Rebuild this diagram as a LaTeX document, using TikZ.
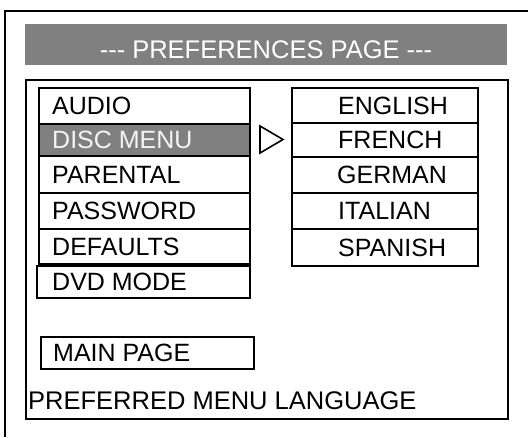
\documentclass[tikz,border=0pt]{standalone}
\usepackage{fontspec}
\setmainfont{Liberation Sans}
\definecolor{bargray}{HTML}{808080}
\definecolor{seltext}{HTML}{F4F4F4}
\begin{document}
\begin{tikzpicture}[x=1pt,y=-1pt,
  frame/.style={line width=2pt, draw=black},
  menubox/.style={draw=black, line width=2pt, anchor=north west, inner sep=0pt, minimum width=211pt},
  langbox/.style={draw=black, line width=2pt, anchor=north west, inner sep=0pt, minimum width=186pt},
  lbl/.style={inner sep=0pt, anchor=west, text height=17.9pt, text depth=0pt, font=\fontsize{25pt}{28pt}\selectfont},
  biglbl/.style={inner sep=0pt, text height=18.3pt, text depth=0pt, font=\fontsize{25.5pt}{28pt}\selectfont}
]
\useasboundingbox (0,0) rectangle (528,437);
\fill[white] (0,0) rectangle (528,437);
% outer frame
\draw[frame] (528,11) -- (5,11) -- (5,437);
% title bar
\node[fill=bargray, inner sep=0pt, anchor=north west, minimum width=482pt, minimum height=41pt] (bar) at (25,24) {};
\node[biglbl, text=white] (title) at (266,49.5) {-{}-{}- PREFERENCES PAGE -{}-{}-};
% inner box
\node[frame, anchor=north west, inner sep=0pt, minimum width=482pt, minimum height=339pt] (inner) at (25,79) {};
% left menu
\node[menubox, minimum height=36pt] (audio) at (38,87) {};
\node[menubox, minimum height=32pt, fill=bargray] (disc) at (38,123) {};
\node[menubox, minimum height=37pt] (parental) at (38,155) {};
\node[menubox, minimum height=36pt] (password) at (38,192) {};
\node[menubox, minimum height=35pt] (defaults) at (38,228) {};
\node[menubox, minimum width=213pt, minimum height=32pt] (dvd) at (36,265) {};
\node[menubox, minimum width=213pt, minimum height=32pt] (mainpage) at (40,336) {};
\node[lbl] (taudio) at ([xshift=14pt]audio.west) {AUDIO};
\node[lbl, text=seltext] (tdisc) at ([xshift=14pt]disc.west) {DISC MENU};
\node[lbl] (tparental) at ([xshift=14pt]parental.west) {PARENTAL};
\node[lbl] (tpassword) at ([xshift=14pt]password.west) {PASSWORD};
\node[lbl] (tdefaults) at ([xshift=14pt]defaults.west) {DEFAULTS};
\node[lbl] (tdvd) at ([xshift=16pt]dvd.west) {DVD MODE};
\node[lbl] (tmain) at ([xshift=13pt]mainpage.west) {MAIN PAGE};
% right language list
\node[langbox, minimum height=35pt] (english) at (291,87) {};
\node[langbox, minimum height=34pt] (french) at (291,122) {};
\node[langbox, minimum height=36pt] (german) at (291,156) {};
\node[langbox, minimum height=36pt] (italian) at (291,192) {};
\node[langbox, minimum height=37pt] (spanish) at (291,228) {};
\node[lbl] (tenglish) at ([xshift=47pt]english.west) {ENGLISH};
\node[lbl] (tfrench) at ([xshift=47pt]french.west) {FRENCH};
\node[lbl] (tgerman) at ([xshift=46pt]german.west) {GERMAN};
\node[lbl] (titalian) at ([xshift=47pt]italian.west) {ITALIAN};
\node[lbl] (tspanish) at ([xshift=47pt]spanish.west) {SPANISH};
% pointer triangle
\draw[line width=1.6pt, line join=miter] (260,126) -- (283,139.5) -- (260,153) -- cycle;
% footer
\node[biglbl, anchor=west] (footer) at (28,400) {PREFERRED MENU LANGUAGE};
\end{tikzpicture}
\end{document}
